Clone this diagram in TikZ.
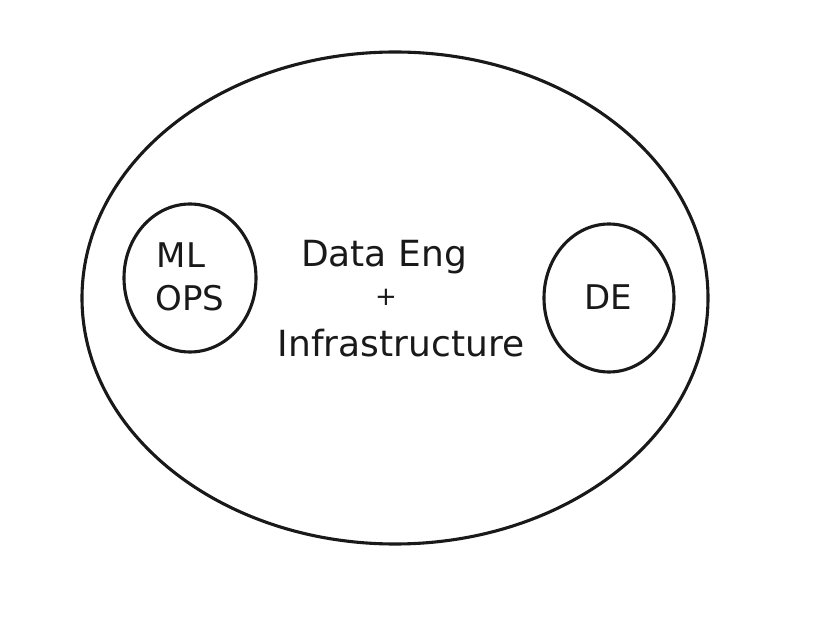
\documentclass[tikz,border=0pt]{standalone}
\usepackage{fontspec}
\setmainfont{DejaVu Sans}
\begin{document}
\begin{tikzpicture}[x=1pt,y=-1pt,
  ring/.style={draw=black!90,line width=3.1pt,fill=none},
  lbl/.style={font=\fontsize{36}{42}\selectfont,text=black!90,inner sep=0pt,anchor=center},
  sml/.style={font=\fontsize{34}{40}\selectfont,text=black!90,inner sep=0pt,anchor=center}]
\useasboundingbox[fill=white] (0,0) rectangle (828,617);
\draw[ring] (395,298) ellipse [x radius=313, y radius=246];
\draw[ring] (190,278) ellipse [x radius=66, y radius=74];
\draw[ring] (609,298) ellipse [x radius=65, y radius=74];
\node[lbl] (de1) at (384,257) {Data Eng};
\node[lbl,font=\fontsize{26}{30}\selectfont] (plus) at (386,297) {+};
\node[lbl] (infra) at (401,343) {Infrastructure};
\node[sml] (ml) at (181,255) {ML};
\node[sml] (ops) at (190,298) {OPS};
\node[sml] (de) at (608,297) {DE};
\end{tikzpicture}
\end{document}
